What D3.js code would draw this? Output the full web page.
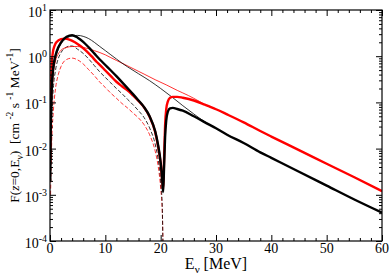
<!DOCTYPE html>
<html>
<head>
<meta charset="utf-8">
<script src="https://cdn.jsdelivr.net/npm/d3@7"></script>
<style>
  body { margin: 0; background: #fff; }
  svg { display: block; }
  text { font-family: "Liberation Serif", "Times New Roman", serif; fill: #000; }
</style>
</head>
<body>
<svg id="chart" width="390" height="277"></svg>
<script>
// thick black
var eThickBlack = [0.05, 0.1, 0.2, 0.3, 0.5, 0.8, 1.2, 2, 3, 4, 5, 6, 7, 8, 9, 10, 11, 12, 13, 14, 15, 16, 17, 18, 19, 19.5, 20, 20.3, 20.45, 20.6, 20.8, 21, 21.3, 21.7, 22.2, 23, 24, 26, 28, 30, 32, 35, 38, 40, 45, 50, 55, 60];
var fThickBlack = [0.002, 0.0126, 0.079, 0.2, 0.447, 0.83, 1.26, 2.0, 2.63, 2.85, 2.51, 2.04, 1.55, 1.15, 0.85, 0.645, 0.49, 0.37, 0.275, 0.204, 0.151, 0.11, 0.079, 0.05, 0.024, 0.0126, 0.005, 0.002, 0.00115, 0.0035, 0.0178, 0.04, 0.063, 0.074, 0.076, 0.072, 0.066, 0.05, 0.037, 0.0275, 0.02, 0.0132, 0.0083, 0.0063, 0.00316, 0.00158, 0.00079, 0.00041];

// thick red
var eThickRed = [0.05, 0.1, 0.2, 0.3, 0.5, 0.8, 1.2, 2, 2.7, 3.5, 4.5, 5.5, 6.5, 7.5, 8.5, 9, 10, 11, 12, 13, 14, 15, 16, 17, 18, 19, 19.5, 20, 20.3, 20.45, 20.6, 20.8, 21, 21.3, 21.7, 22.2, 23, 24, 26, 28, 30, 32, 35, 38, 40, 45, 50, 55, 60];
var fThickRed = [0.005, 0.04, 0.25, 0.63, 1.17, 1.66, 2.04, 2.34, 2.4, 2.29, 2.0, 1.66, 1.32, 1.0, 0.74, 0.65, 0.49, 0.37, 0.28, 0.224, 0.182, 0.141, 0.107, 0.078, 0.049, 0.023, 0.0117, 0.0047, 0.0019, 0.0013, 0.005, 0.0316, 0.071, 0.105, 0.126, 0.132, 0.132, 0.126, 0.11, 0.089, 0.071, 0.055, 0.037, 0.024, 0.0182, 0.0093, 0.0047, 0.0024, 0.0012];

// thin black solid
var eThinBlack = [0.1, 0.3, 0.6, 1, 1.5, 2, 3, 4, 5, 6, 7, 8, 9, 10, 11, 12, 13, 14, 16, 18, 20, 22, 24, 26, 28, 30, 32, 35, 38, 40, 45, 50, 55, 60];
var fThinBlack = [0.01, 0.1, 0.45, 0.89, 1.41, 1.86, 2.45, 2.75, 2.82, 2.69, 2.4, 2.0, 1.62, 1.32, 1.07, 0.87, 0.71, 0.59, 0.417, 0.295, 0.2, 0.132, 0.085, 0.056, 0.038, 0.0275, 0.02, 0.0132, 0.0083, 0.0063, 0.00316, 0.00158, 0.00079, 0.00041];

// thin red solid
var eThinRed = [0.1, 0.3, 0.6, 1, 1.5, 2, 3, 4, 5, 6, 7, 8, 9, 10, 11, 12, 13, 15, 17, 19, 21, 23, 25, 27, 28, 30, 32, 35, 38, 40, 45, 50, 55, 60];
var fThinRed = [0.0063, 0.079, 0.4, 0.79, 1.12, 1.35, 1.55, 1.62, 1.62, 1.55, 1.45, 1.32, 1.2, 1.07, 0.93, 0.81, 0.71, 0.54, 0.41, 0.31, 0.24, 0.182, 0.141, 0.105, 0.089, 0.071, 0.055, 0.037, 0.024, 0.0182, 0.0093, 0.0047, 0.0024, 0.0012];

// thin black dashed
var eDashBlack = [0.1, 0.3, 0.6, 1, 1.5, 2, 3, 3.5, 4, 5, 6, 7, 8, 9, 10, 11, 12, 13, 14, 15, 16, 17, 18, 19, 19.5, 20, 20.3, 20.45];
var fDashBlack = [0.00316, 0.04, 0.2, 0.5, 0.89, 1.2, 1.58, 1.66, 1.66, 1.41, 1.15, 0.87, 0.63, 0.457, 0.347, 0.263, 0.2, 0.155, 0.117, 0.089, 0.066, 0.047, 0.028, 0.0126, 0.0063, 0.002, 0.0005, 0.00003];

// thin red dashed
var eDashRed = [0.1, 0.3, 0.6, 1, 1.5, 2, 3, 4, 5, 6, 7, 8, 9, 10, 11, 12, 13, 14, 15, 16, 17, 18, 19, 19.5, 20, 20.3, 20.5];
var fDashRed = [0.001, 0.0126, 0.063, 0.2, 0.4, 0.6, 0.85, 0.91, 0.83, 0.68, 0.51, 0.38, 0.275, 0.21, 0.158, 0.123, 0.095, 0.076, 0.059, 0.046, 0.033, 0.02, 0.0089, 0.0045, 0.0014, 0.0004, 0.00003];

var xTicks = [0, 10, 20, 30, 40, 50, 60];
var yTicks = [1e-4, 1e-3, 1e-2, 1e-1, 1, 10];
var yExponents = ["-4", "-3", "-2", "-1", "0", "1"];

var pLeft = 50, pRight = 382, pTop = 10, pBottom = 241;

var svg = d3.select("#chart");

var x = d3.scaleLinear().domain([0, 60]).range([pLeft, pRight]);
var y = d3.scaleLog().domain([1e-4, 10]).range([pBottom, pTop]);

// minor ticks
var xMinor = d3.range(0, 61, 2).filter(function (d) { return d % 10 !== 0; });
var yMinor = [];
yTicks.slice(0, -1).forEach(function (t) {
    for (var k = 2; k <= 9; k++) yMinor.push(t * k);
});

svg.append("defs").append("clipPath").attr("id", "plotclip")
    .append("rect")
    .attr("x", pLeft).attr("y", pTop)
    .attr("width", pRight - pLeft).attr("height", pBottom - pTop);

// curves
var line = d3.line()
    .x(function (d) { return x(d[0]); })
    .y(function (d) { return y(d[1]); })
    .curve(d3.curveMonotoneX);

function zip(e, f) {
    return e.map(function (v, i) { return [v, f[i]]; });
}

var curves = [
    { data: zip(eDashRed, fDashRed), color: "#ff0000", width: 0.8, dash: "4,2" },
    { data: zip(eDashBlack, fDashBlack), color: "#000", width: 0.8, dash: "4,2" },
    { data: zip(eThinRed, fThinRed), color: "#ff0000", width: 0.8, dash: null },
    { data: zip(eThinBlack, fThinBlack), color: "#000", width: 0.8, dash: null },
    { data: zip(eThickRed, fThickRed), color: "#ff0000", width: 2.4, dash: null },
    { data: zip(eThickBlack, fThickBlack), color: "#000", width: 2.4, dash: null }
];

var g = svg.append("g").attr("clip-path", "url(#plotclip)");
g.selectAll("path")
    .data(curves)
    .enter()
    .append("path")
    .attr("d", function (d) { return line(d.data); })
    .attr("fill", "none")
    .attr("stroke", function (d) { return d.color; })
    .attr("stroke-width", function (d) { return d.width; })
    .attr("stroke-dasharray", function (d) { return d.dash; });

// ticks, all pointing inward
function addAxis(axis, tx, ty) {
    var a = svg.append("g")
        .attr("transform", "translate(" + tx + "," + ty + ")")
        .call(axis);
    a.select(".domain").remove();
    a.selectAll("line").attr("stroke", "#000").attr("stroke-width", 1);
    a.selectAll("text").remove();
}

addAxis(d3.axisBottom(x).tickValues(xTicks).tickSize(-6), 0, pBottom);
addAxis(d3.axisBottom(x).tickValues(xMinor).tickSize(-3), 0, pBottom);
addAxis(d3.axisTop(x).tickValues(xTicks).tickSize(-6), 0, pTop);
addAxis(d3.axisTop(x).tickValues(xMinor).tickSize(-3), 0, pTop);
addAxis(d3.axisLeft(y).tickValues(yTicks).tickSize(-6), pLeft, 0);
addAxis(d3.axisLeft(y).tickValues(yMinor).tickSize(-3), pLeft, 0);
addAxis(d3.axisRight(y).tickValues(yTicks).tickSize(-6), pRight, 0);
addAxis(d3.axisRight(y).tickValues(yMinor).tickSize(-3), pRight, 0);

// frame
svg.append("rect")
    .attr("x", pLeft).attr("y", pTop)
    .attr("width", pRight - pLeft).attr("height", pBottom - pTop)
    .attr("fill", "none").attr("stroke", "#000").attr("stroke-width", 1.2);

// x tick labels
svg.selectAll(".xlab")
    .data(xTicks)
    .enter()
    .append("text")
    .attr("class", "xlab")
    .attr("x", function (d) { return x(d); })
    .attr("y", 253)
    .attr("text-anchor", "middle")
    .attr("font-size", 14)
    .text(function (d) { return d; });

// y tick labels, 10^n
var ylab = svg.selectAll(".ylab")
    .data(yTicks)
    .enter()
    .append("text")
    .attr("class", "ylab")
    .attr("x", 47)
    .attr("y", function (d) { return y(d) + 7; })
    .attr("text-anchor", "end")
    .attr("font-size", 14);
ylab.append("tspan").text("10");
ylab.append("tspan")
    .attr("dy", -6)
    .attr("font-size", 10)
    .text(function (d, i) { return yExponents[i]; });

// x title
var xt = svg.append("text")
    .attr("x", (pLeft + pRight) / 2)
    .attr("y", 269)
    .attr("text-anchor", "middle")
    .attr("font-size", 16);
xt.append("tspan").text("E");
xt.append("tspan").attr("dy", 4).attr("font-size", 11).text("ν");
xt.append("tspan").attr("dy", -4).text(" [MeV]");

// y title
var yt = svg.append("text")
    .attr("transform", "translate(19," + (pTop + pBottom) / 2 + ") rotate(-90)")
    .attr("text-anchor", "middle")
    .attr("font-size", 13.5)
    .attr("xml:space", "preserve");
yt.append("tspan").text("F(");
yt.append("tspan").attr("font-style", "italic").text("z");
yt.append("tspan").text("=0,E");
yt.append("tspan").attr("dy", 4).attr("font-size", 9.5).text("ν");
yt.append("tspan").attr("dy", -4).text(")  [cm ");
yt.append("tspan").attr("dy", -6).attr("font-size", 9.5).text("-2");
yt.append("tspan").attr("dy", 6).text(" s ");
yt.append("tspan").attr("dy", -6).attr("font-size", 9.5).text("-1");
yt.append("tspan").attr("dy", 6).text(" MeV");
yt.append("tspan").attr("dy", -6).attr("font-size", 9.5).text("-1");
yt.append("tspan").attr("dy", 6).text("]");
</script>
</body>
</html>
